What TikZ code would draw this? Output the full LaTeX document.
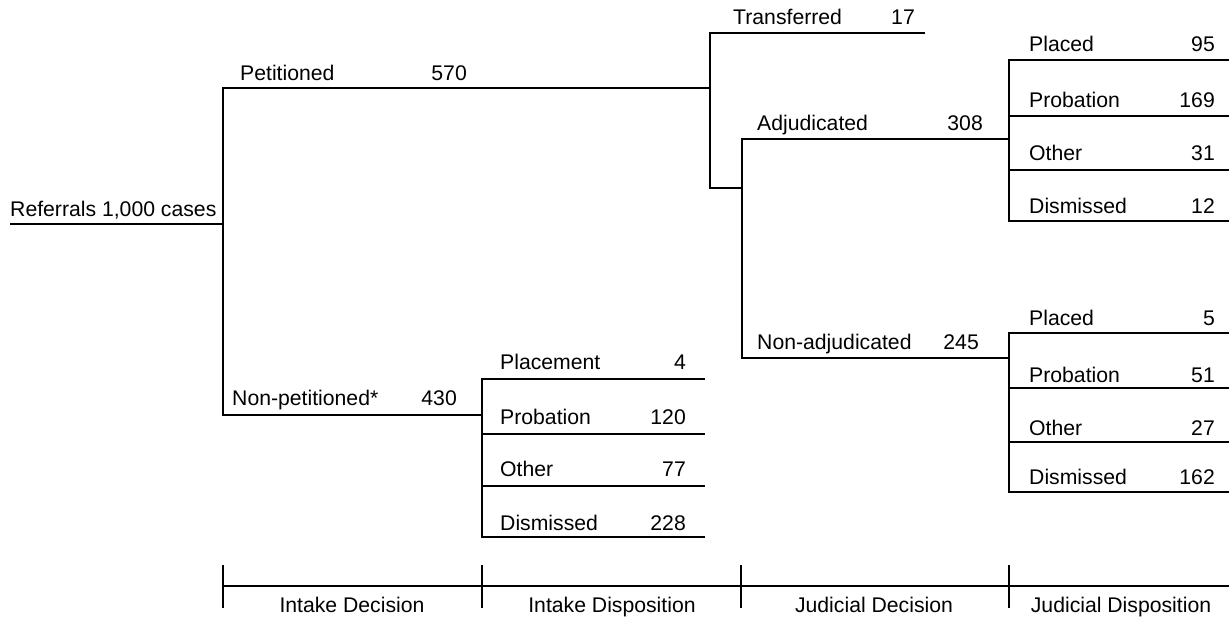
\documentclass[tikz,border=0pt]{standalone}
\usepackage{fontspec}
\setmainfont{Liberation Sans}
\begin{document}
\begin{tikzpicture}[x=1pt,y=-1pt,
  br/.style={line width=2.2pt, line join=miter},
  tick/.style={line width=2pt},
  txt/.style={inner sep=0pt, font=\fontsize{21.2}{25}\selectfont},
  lbl/.style={txt, anchor=base west},
  num/.style={txt, anchor=base east},
  stage/.style={txt, anchor=base}]
\useasboundingbox (0,0) rectangle (1229,616);
% ---- branch coordinates ----
\coordinate (ref) at (10,224);
\coordinate (r) at (223,224);
\coordinate (pt) at (223,88);
\coordinate (pe) at (710,88);
\coordinate (npt) at (223,415);
\coordinate (npe) at (482,415);
\coordinate (trs) at (710,33);
\coordinate (tre) at (925,33);
\coordinate (pb) at (710,188);
\coordinate (jd) at (742,188);
\coordinate (adjs) at (742,139);
\coordinate (adje) at (1009,139);
\coordinate (nads) at (742,358);
\coordinate (nade) at (1009,358);
% upper judicial disposition
\coordinate (u1) at (1009,60);  \coordinate (u1e) at (1229,60);
\coordinate (u2) at (1009,116); \coordinate (u2e) at (1229,116);
\coordinate (u3) at (1009,170); \coordinate (u3e) at (1229,170);
\coordinate (u4) at (1009,221); \coordinate (u4e) at (1229,221);
% lower judicial disposition
\coordinate (l1) at (1009,333); \coordinate (l1e) at (1229,333);
\coordinate (l2) at (1009,388); \coordinate (l2e) at (1229,388);
\coordinate (l3) at (1009,442); \coordinate (l3e) at (1229,442);
\coordinate (l4) at (1009,492); \coordinate (l4e) at (1229,492);
% intake disposition
\coordinate (i1) at (482,379); \coordinate (i1e) at (705,379);
\coordinate (i2) at (482,434); \coordinate (i2e) at (705,434);
\coordinate (i3) at (482,486); \coordinate (i3e) at (705,486);
\coordinate (i4) at (482,537); \coordinate (i4e) at (705,537);
% axis
\coordinate (a0) at (223,586); \coordinate (ae) at (1229,586);
\coordinate (t1a) at (223,565); \coordinate (t1b) at (223,608);
\coordinate (t2a) at (482,565); \coordinate (t2b) at (482,608);
\coordinate (t3a) at (741,565); \coordinate (t3b) at (741,608);
\coordinate (t4a) at (1009,565); \coordinate (t4b) at (1009,608);

% ---- lines ----
\draw[br] (ref) -- (r);
\draw[br] (pe) -- (pt) -- (npt) -- (npe);
\draw[br] (tre) -- (trs) -- (pb) -- (jd);
\draw[br] (adje) -- (adjs) -- (nads) -- (nade);
\draw[br] (u1e) -- (u1) -- (u4) -- (u4e);
\draw[br] (u2) -- (u2e);
\draw[br] (u3) -- (u3e);
\draw[br] (l1e) -- (l1) -- (l4) -- (l4e);
\draw[br] (l2) -- (l2e);
\draw[br] (l3) -- (l3e);
\draw[br] (i1e) -- (i1) -- (i4) -- (i4e);
\draw[br] (i2) -- (i2e);
\draw[br] (i3) -- (i3e);
\draw[br] (a0) -- (ae);
\draw[tick] (t1a) -- (t1b);
\draw[tick] (t2a) -- (t2b);
\draw[tick] (t3a) -- (t3b);
\draw[tick] (t4a) -- (t4b);

% ---- labels ----
\node[lbl] (nref) at (10,216) {Referrals 1,000 cases};
\node[lbl] (npet) at (240,80) {Petitioned};
\node[num] (n570) at (467,80) {570};
\node[lbl] (nnp) at (232,405) {Non-petitioned*};
\node[num] (n430) at (457,405) {430};
\node[lbl] (ntr) at (733,24) {Transferred};
\node[num] (n17) at (915,24) {17};
\node[lbl] (nadj) at (757,130) {Adjudicated};
\node[num] (n308) at (983,130) {308};
\node[lbl] (nnadj) at (757,349) {Non-adjudicated};
\node[num] (n245) at (979,349) {245};

\node[lbl] (up1) at (1029,51) {Placed};
\node[num] (upn1) at (1215,51) {95};
\node[lbl] (up2) at (1029,107) {Probation};
\node[num] (upn2) at (1215,107) {169};
\node[lbl] (up3) at (1029,160) {Other};
\node[num] (upn3) at (1215,160) {31};
\node[lbl] (up4) at (1029,213) {Dismissed};
\node[num] (upn4) at (1215,213) {12};

\node[lbl] (lo1) at (1029,325) {Placed};
\node[num] (lon1) at (1215,325) {5};
\node[lbl] (lo2) at (1029,382) {Probation};
\node[num] (lon2) at (1215,382) {51};
\node[lbl] (lo3) at (1029,435) {Other};
\node[num] (lon3) at (1215,435) {27};
\node[lbl] (lo4) at (1029,484) {Dismissed};
\node[num] (lon4) at (1215,484) {162};

\node[lbl] (in1) at (500,369) {Placement};
\node[num] (inn1) at (686,369) {4};
\node[lbl] (in2) at (500,424) {Probation};
\node[num] (inn2) at (686,424) {120};
\node[lbl] (in3) at (500,476) {Other};
\node[num] (inn3) at (686,476) {77};
\node[lbl] (in4) at (500,530) {Dismissed};
\node[num] (inn4) at (686,530) {228};

\node[stage] (s1) at (352,612) {Intake Decision};
\node[stage] (s2) at (612,612) {Intake Disposition};
\node[stage] (s3) at (874,612) {Judicial Decision};
\node[stage] (s4) at (1121,612) {Judicial Disposition};
\end{tikzpicture}
\end{document}
